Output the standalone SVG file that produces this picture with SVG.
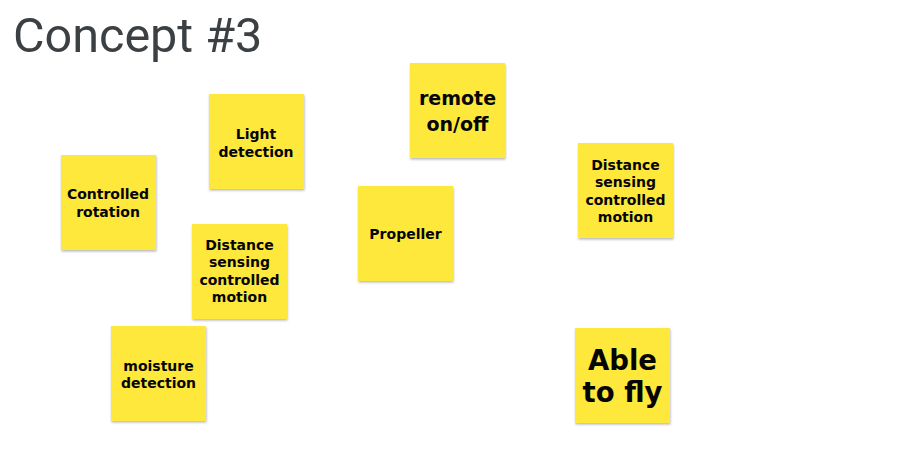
<svg xmlns="http://www.w3.org/2000/svg" width="898" height="464" viewBox="0 0 898 464">
<defs>
<filter id="sh" x="-10%" y="-10%" width="125%" height="125%">
<feDropShadow dx="0.5" dy="1.5" stdDeviation="1" flood-color="#000" flood-opacity="0.28"/>
</filter>
</defs>
<style>
.note{fill:#fee83a;filter:url(#sh)}
.t{font-family:"DejaVu Sans","Open Sans",sans-serif;font-weight:700;fill:#050505;text-anchor:middle}
.s{font-size:14px}
.m{font-size:19px}
.l{font-size:27.5px}
.title{font-family:Roboto,"Liberation Sans",sans-serif;font-size:48.5px;fill:#3c4043}
</style>
<rect width="898" height="464" fill="#fff"/>
<text class="title" x="13" y="52">Concept #3</text>
<g id="connectors"></g>
<g id="controlled-rotation">
<rect class="note" x="61" y="155" width="95" height="95"/>
<text class="t s" x="108" y="199">Controlled</text>
<text class="t s" x="108" y="216.5">rotation</text>
</g>
<g id="light-detection">
<rect class="note" x="209" y="94" width="95" height="95"/>
<text class="t s" x="256" y="139">Light</text>
<text class="t s" x="256" y="157">detection</text>
</g>
<g id="distance-left">
<rect class="note" x="192" y="224" width="95" height="95"/>
<text class="t s" x="239.5" y="249.5">Distance</text>
<text class="t s" x="239.5" y="267">sensing</text>
<text class="t s" x="239.5" y="284.5">controlled</text>
<text class="t s" x="239.5" y="302">motion</text>
</g>
<g id="moisture-detection">
<rect class="note" x="111" y="326" width="95" height="95"/>
<text class="t s" x="158.5" y="370.5">moisture</text>
<text class="t s" x="158.5" y="388">detection</text>
</g>
<g id="remote">
<rect class="note" x="410" y="63" width="95" height="95"/>
<text class="t m" x="457.5" y="104.5">remote</text>
<text class="t m" x="457.5" y="130.5">on/off</text>
</g>
<g id="propeller">
<rect class="note" x="358" y="186" width="95" height="95"/>
<text class="t s" x="405.5" y="238.5">Propeller</text>
</g>
<g id="distance-right">
<rect class="note" x="578" y="143" width="95" height="95"/>
<text class="t s" x="625.5" y="169.5">Distance</text>
<text class="t s" x="625.5" y="187">sensing</text>
<text class="t s" x="625.5" y="204.5">controlled</text>
<text class="t s" x="625.5" y="222">motion</text>
</g>
<g id="able-to-fly">
<rect class="note" x="575" y="328" width="95" height="95"/>
<text class="t l" x="622.5" y="370">Able</text>
<text class="t l" x="622.5" y="402">to fly</text>
</g>
</svg>
